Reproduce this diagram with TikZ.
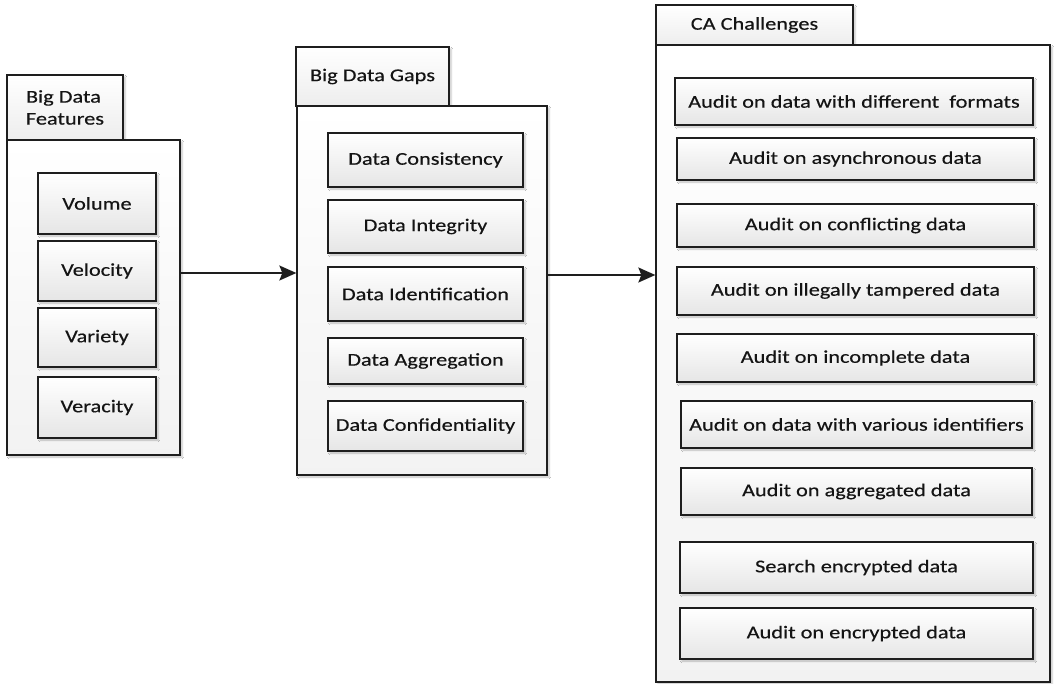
\documentclass[tikz,border=0pt]{standalone}
\usepackage{fontspec}
\setmainfont{Carlito}[FakeStretch=1.24]
\usetikzlibrary{shadows.blur,arrows.meta}
\definecolor{edge}{HTML}{1E1E1E}
\begin{document}
\begin{tikzpicture}[x=1pt,y=-1pt,
  shade/.style={blur shadow={shadow xshift=2pt,shadow yshift=-2pt,shadow blur steps=4,shadow opacity=25}},
  txt/.style={font=\fontsize{18}{22}\selectfont\addfontfeatures{FakeBold=0.4}, text=black!92},
  panel/.style={draw=edge, line width=1.3pt, top color=white, bottom color=gray!10, shade, inner sep=0pt},
  tab/.style={draw=edge, line width=1.3pt, top color=white, bottom color=gray!14, shade, inner sep=0pt,
    txt, align=left},
  item/.style={draw=edge, line width=1.2pt, top color=white, bottom color=gray!20, shade, inner sep=0pt, txt},
  arr/.style={draw=edge, line width=1.6pt, -{Stealth[length=17pt,width=15pt,inset=3pt]}}]
\useasboundingbox (0,0) rectangle (1057,683);
\fill[white] (0,0) rectangle (1057,683);

% Panel 1
\node[tab, minimum width=116pt, minimum height=65pt] (t1) at (65,107.5) {Big Data\\Features};
\node[panel, minimum width=173pt, minimum height=315pt] (p1) at (93.5,297.5) {};
\node[item, minimum width=118pt, minimum height=61pt] (a1) at (97,203.5) {Volume};
\node[item, minimum width=118pt, minimum height=60pt] (a2) at (97,271) {Velocity};
\node[item, minimum width=118pt, minimum height=59pt] (a3) at (97,337.5) {Variety};
\node[item, minimum width=118pt, minimum height=61pt] (a4) at (97,407.5) {Veracity};

% Panel 2
\node[tab, minimum width=153pt, minimum height=59pt] (t2) at (372.5,76.5) {Big Data Gaps};
\node[panel, minimum width=250pt, minimum height=369pt] (p2) at (422,290.5) {};
\node[item, minimum width=195pt, minimum height=54pt] (b1) at (425.5,160) {Data Consistency};
\node[item, minimum width=195pt, minimum height=53pt] (b2) at (425.5,226.5) {Data Integrity};
\node[item, minimum width=195pt, minimum height=54pt] (b3) at (425.5,294) {Data Identification};
\node[item, minimum width=195pt, minimum height=46pt] (b4) at (425.5,361) {Data Aggregation};
\node[item, minimum width=195pt, minimum height=50pt] (b5) at (425.5,426) {Data Confidentiality};

% Panel 3
\node[tab, minimum width=197pt, minimum height=40pt] (t3) at (754.5,25) {CA Challenges};
\node[panel, minimum width=394pt, minimum height=637pt] (p3) at (853,363.5) {};
\node[item, minimum width=358pt, minimum height=47pt] (c1) at (854,101.5) {Audit on data with different\ \ formats};
\node[item, minimum width=357pt, minimum height=42pt] (c2) at (855.5,159) {Audit on asynchronous data};
\node[item, minimum width=357pt, minimum height=43pt] (c3) at (855.5,225.5) {Audit on conflicting data};
\node[item, minimum width=357pt, minimum height=48pt] (c4) at (855.5,291) {Audit on illegally tampered data};
\node[item, minimum width=357pt, minimum height=48pt] (c5) at (855.5,358) {Audit on incomplete data};
\node[item, minimum width=351pt, minimum height=47pt] (c6) at (856.5,424.5) {Audit on data with various identifiers};
\node[item, minimum width=351pt, minimum height=47pt] (c7) at (856.5,491.5) {Audit on aggregated data};
\node[item, minimum width=353pt, minimum height=51pt] (c8) at (856.5,567.5) {Search encrypted data};
\node[item, minimum width=353pt, minimum height=51pt] (c9) at (856.5,633.5) {Audit on encrypted data};

% Arrows
\draw[arr] ([yshift=24.5pt]p1.east) -- ([yshift=24.5pt]p1.east -| p2.west);
\draw[arr] ([yshift=15.5pt]p2.east) -- ([yshift=15.5pt]p2.east -| p3.west);
\end{tikzpicture}
\end{document}
